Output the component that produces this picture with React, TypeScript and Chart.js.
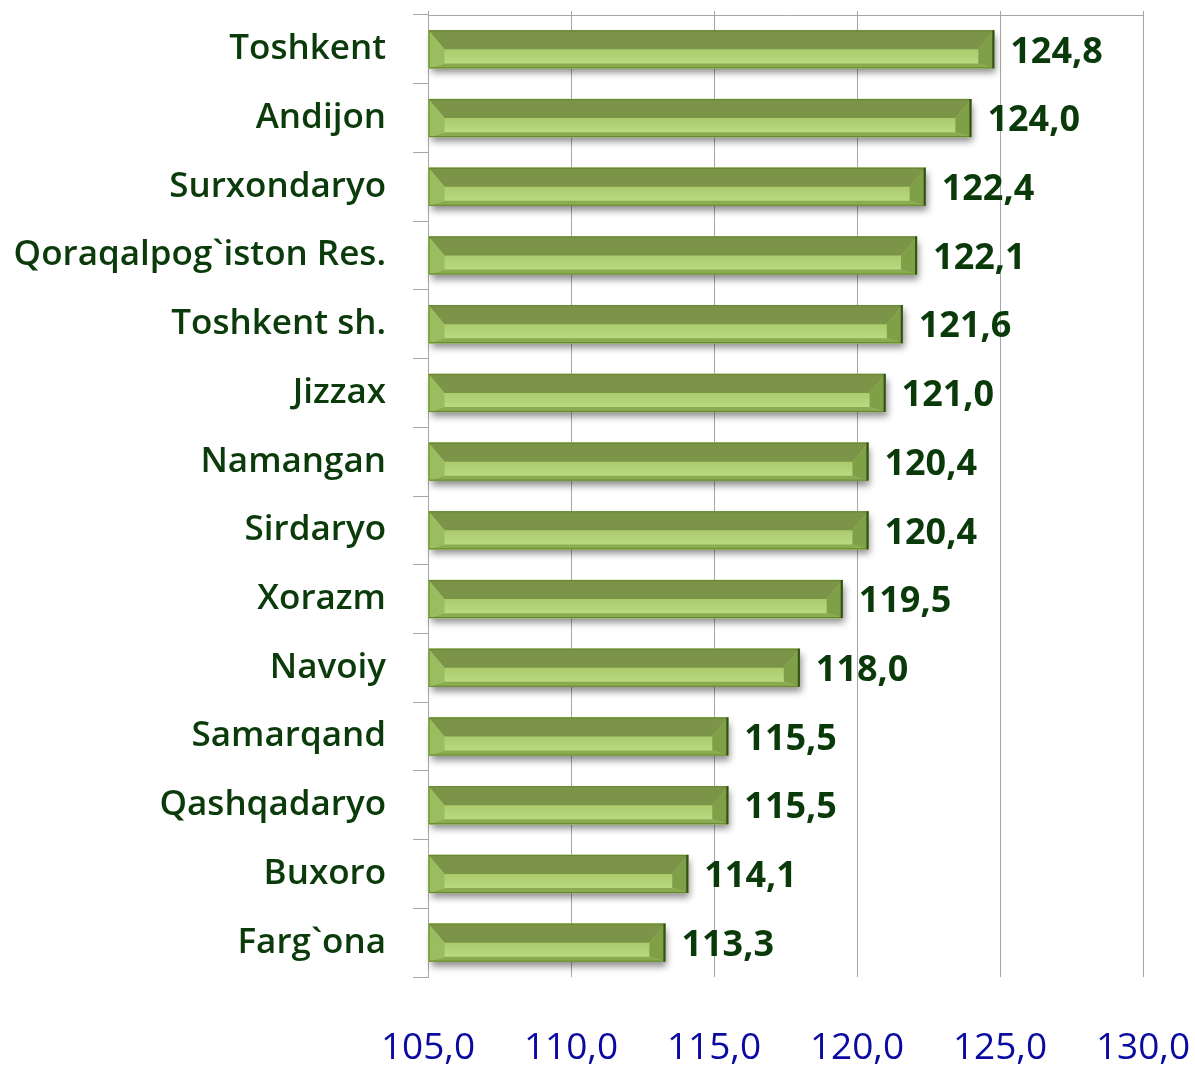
import React, { useEffect, useRef } from 'react';
import { Chart, registerables } from 'chart.js';

Chart.register(...registerables);

const categories = [
  'Toshkent',
  'Andijon',
  'Surxondaryo',
  'Qoraqalpog`iston Res.',
  'Toshkent sh.',
  'Jizzax',
  'Namangan',
  'Sirdaryo',
  'Xorazm',
  'Navoiy',
  'Samarqand',
  'Qashqadaryo',
  'Buxoro',
  'Farg`ona',
];
const values = [124.8, 124.0, 122.4, 122.1, 121.6, 121.0, 120.4, 120.4, 119.5, 118.0, 115.5, 115.5, 114.1, 113.3];
const axisMin = 105;
const axisMax = 130;
const axisStep = 5;

const fmt = (v: number) => v.toFixed(1).replace('.', ',');

const FONT = '"Open Sans", "DejaVu Sans", sans-serif';
const GRID = '#a6a6a6';

function barBox(bar: any) {
  const p = bar.getProps(['x', 'y', 'base', 'height'], true);
  const l = Math.min(p.base, p.x);
  const r = Math.max(p.base, p.x);
  const t = p.y - p.height / 2;
  const b = p.y + p.height / 2;
  return { l, r, t, b, h: p.height, y: p.y, x: p.x };
}

function poly(ctx: CanvasRenderingContext2D, pts: number[][], fill: any) {
  ctx.beginPath();
  ctx.moveTo(pts[0][0], pts[0][1]);
  for (let i = 1; i < pts.length; i++) ctx.lineTo(pts[i][0], pts[i][1]);
  ctx.closePath();
  ctx.fillStyle = fill;
  ctx.fill();
}

const framePlugin = {
  id: 'frame',
  beforeDatasetsDraw(chart: any) {
    const { ctx, chartArea } = chart;
    const xs = chart.scales.x;
    ctx.save();
    ctx.strokeStyle = GRID;
    ctx.lineWidth = 1;
    ctx.beginPath();
    ctx.moveTo(chartArea.left, Math.round(chartArea.top) + 0.5);
    ctx.lineTo(chartArea.right, Math.round(chartArea.top) + 0.5);
    xs.ticks.forEach((tk: any) => {
      const px = Math.round(xs.getPixelForValue(tk.value)) + 0.5;
      ctx.moveTo(px, chartArea.top - 4);
      ctx.lineTo(px, chartArea.top);
    });
    ctx.stroke();
    const meta = chart.getDatasetMeta(0);
    meta.data.forEach((bar: any) => {
      const { l, r, t, b } = barBox(bar);
      ctx.save();
      ctx.shadowColor = 'rgba(0,0,0,0.45)';
      ctx.shadowBlur = 7;
      ctx.shadowOffsetX = 2;
      ctx.shadowOffsetY = 5;
      ctx.fillStyle = '#7f9a4c';
      ctx.fillRect(l, t, r - l, b - t);
      ctx.restore();
    });
    ctx.restore();
  },
};

const bevelPlugin = {
  id: 'bevel',
  afterDatasetsDraw(chart: any) {
    const { ctx } = chart;
    const meta = chart.getDatasetMeta(0);
    ctx.save();
    meta.data.forEach((bar: any, i: number) => {
      const { l, r, t, b, h, y } = barBox(bar);
      const it = h * 0.5;
      const ib = h * 0.13;
      const il = 16;
      const ir = 16;
      const g = ctx.createLinearGradient(0, t + it, 0, b - ib);
      g.addColorStop(0, '#abcb6d');
      g.addColorStop(1, '#bad981');
      poly(ctx, [[l, t], [r, t], [r, b], [l, b]], g);
      poly(ctx, [[l, t], [r, t], [r - ir, t + it], [l + il, t + it]], '#7b9448');
      poly(ctx, [[l, b], [r, b], [r - ir, b - ib], [l + il, b - ib]], '#8aab50');
      poly(ctx, [[l, t], [l + il, t + it], [l + il, b - ib], [l, b]], '#9abd60');
      poly(ctx, [[r, t], [r - ir, t + it], [r - ir, b - ib], [r, b]], '#80a048');
      ctx.strokeStyle = '#66852f';
      ctx.lineWidth = 1;
      ctx.strokeRect(l + 0.5, t + 0.5, r - l - 1, b - t - 1);
      ctx.fillStyle = '#34501a';
      ctx.fillRect(r - 2, t, 2, b - t);
      ctx.fillStyle = '#0a3a0a';
      ctx.font = `bold 36px ${FONT}`;
      ctx.textAlign = 'left';
      ctx.textBaseline = 'middle';
      ctx.fillText(fmt(values[i]), r + 16, y + 3);
    });
    ctx.restore();
  },
};

export default function App() {
  const ref = useRef<HTMLCanvasElement | null>(null);

  useEffect(() => {
    document.body.style.margin = '0';
    const canvas = ref.current;
    if (!canvas) return;
    const chart = new Chart(canvas, {
      type: 'bar',
      data: {
        labels: categories,
        datasets: [
          {
            data: values,
            base: axisMin,
            backgroundColor: '#b4d47a',
            borderWidth: 0,
            barThickness: 38,
          } as any,
        ],
      },
      options: {
        indexAxis: 'y',
        animation: false,
        responsive: false,
        maintainAspectRatio: false,
        layout: { padding: { top: 15, right: 52, left: 0, bottom: 0 } },
        plugins: {
          legend: { display: false },
          tooltip: { enabled: false },
          title: { display: false },
        },
        scales: {
          x: {
            type: 'linear',
            position: 'bottom',
            min: axisMin,
            max: axisMax,
            ticks: {
              stepSize: axisStep,
              padding: 49,
              color: '#0a0aa0',
              font: { family: FONT, size: 37 },
              callback: (v: any) => fmt(Number(v)),
            },
            grid: { color: GRID, lineWidth: 1, drawTicks: false },
            border: { display: false },
            afterFit: (s: any) => {
              s.height = 89;
              s.paddingLeft = 0;
              s.paddingRight = 0;
            },
          },
          y: {
            type: 'category',
            offset: true,
            ticks: {
              padding: 27,
              color: '#0b3b0b',
              font: { family: FONT, size: 35, weight: '600' as any },
            },
            grid: {
              offset: true,
              drawOnChartArea: false,
              drawTicks: true,
              tickLength: 15,
              color: GRID,
            },
            border: { display: true, color: GRID },
            afterFit: (s: any) => {
              s.width = 428;
              s.paddingTop = 0;
              s.paddingBottom = 0;
            },
          },
        },
      },
      plugins: [framePlugin, bevelPlugin],
    });
    return () => chart.destroy();
  }, []);

  return (
    <div style={{ position: 'absolute', left: 0, top: 0, width: 1195, height: 1066, background: '#fff' }}>
      <canvas ref={ref} width={1195} height={1066} style={{ width: 1195, height: 1066 }} />
    </div>
  );
}
